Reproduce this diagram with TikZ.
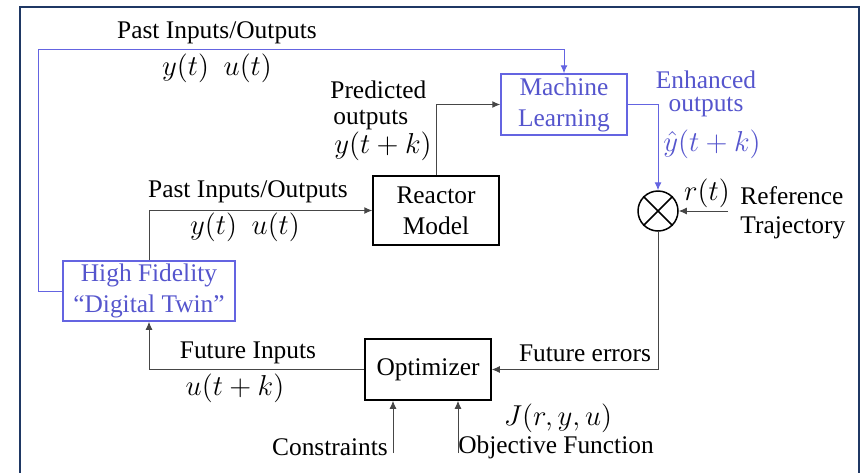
\documentclass[tikz,border=0pt]{standalone}
\usepackage{fontspec}
\setmainfont{LiberationSerif}[Extension=.ttf, UprightFont=*-Regular, BoldFont=*-Bold, ItalicFont=*-Italic]
\usetikzlibrary{arrows.meta}
\definecolor{frameblue}{RGB}{31,56,100}
\definecolor{mlblue}{RGB}{100,100,225}
\definecolor{mltext}{RGB}{85,85,205}
\definecolor{lin}{RGB}{70,70,70}
\tikzset{
  txt/.style={inner sep=0pt, font=\rmfamily\fontsize{12.7}{16}\selectfont},
  mth/.style={inner sep=0pt, font=\fontsize{14.7}{17}\selectfont},
  blk/.style={draw=black, line width=0.75pt, inner sep=0pt, align=center, font=\rmfamily\fontsize{12.7}{15.5}\selectfont},
  bblk/.style={draw=mlblue, line width=0.75pt, inner sep=0pt, align=center, text=mltext, font=\rmfamily\fontsize{12.7}{15.5}\selectfont},
  conn/.style={draw=lin, line width=0.5pt, -{Latex[length=4pt,width=3.5pt]}},
  bconn/.style={draw=mlblue, line width=0.5pt, -{Latex[length=4pt,width=3.5pt]}},
}
\begin{document}
\begin{tikzpicture}[x=0.5pt,y=-0.5pt]
\useasboundingbox (0,0) rectangle (861,472);
% frame
\draw[frameblue, line width=1.2pt] (20,480) -- (20,7) -- (859,7) -- (859,480);

% blocks
\node[blk, minimum width=63pt, minimum height=34.5pt] (reactor) at (436,210.5) {Reactor\\Model};
\node[bblk, minimum width=63pt, minimum height=30.5pt] (ml) at (564,104.5) {Machine\\Learning};
\node[bblk, minimum width=86pt, minimum height=30pt] (dt) at (149,291) {High Fidelity\\“Digital Twin”};
\node[blk, minimum width=63pt, minimum height=30.5pt] (opt) at (428,369.5) {Optimizer};
\node[draw=black, line width=0.75pt, circle, minimum size=20pt, inner sep=0pt] (circ) at (658,211) {};
\draw[black, line width=0.75pt] (circ.north west) -- (circ.south east) (circ.north east) -- (circ.south west);

% coordinates
\coordinate (tl) at (38,49);
\coordinate (refin) at (728,211);
\coordinate (cin) at (393,453);
\coordinate (oin) at (458,453);

% connectors
\draw[bconn] (dt.west) -| (tl) -| (ml.north);
\draw[conn] (dt.north) |- (reactor.west);
\draw[conn] (reactor.north) |- (ml.west);
\draw[bconn] (ml.east) -| (circ.north);
\draw[conn] (refin) -- (circ.east);
\draw[conn] (circ.south) |- (opt.east);
\draw[conn] (opt.west) -| (dt.south);
\draw[conn] (cin) -- (cin |- opt.south);
\draw[conn] (oin) -- (oin |- opt.south);

% labels
\node[txt] (l1) at (217,33) {Past Inputs/Outputs};
\node[mth] (l2) at (217,68) {$y(t)\hspace{0.5em}u(t)$};
\node[txt] (l3) at (248,192) {Past Inputs/Outputs};
\node[mth] (l4) at (245,227) {$y(t)\hspace{0.5em}u(t)$};
\node[txt, anchor=west] (l5) at (330,90) {Predicted};
\node[txt, anchor=west] (l6) at (333,120) {outputs};
\node[mth, anchor=west] (l7) at (334,146) {$y(t+k)$};
\node[txt, text=mltext] (l8) at (706,80) {Enhanced};
\node[txt, text=mltext] (l9) at (706,107) {outputs};
\node[mth, text=mltext] (l10) at (712,144) {$\hat{y}(t+k)$};
\node[mth] (l11) at (707,193) {$r(t)$};
\node[txt, anchor=west] (l12) at (740,196) {Reference};
\node[txt, anchor=west] (l13) at (740,228) {Trajectory};
\node[txt] (l14) at (585,353) {Future errors};
\node[txt] (l15) at (248,353) {Future Inputs};
\node[mth] (l16) at (235,388) {$u(t+k)$};
\node[txt] (l17) at (330,447) {Constraints};
\node[mth] (l18) at (558,418) {$J(r,y,u)$};
\node[txt] (l19) at (556,447) {Objective Function};
\end{tikzpicture}
\end{document}
